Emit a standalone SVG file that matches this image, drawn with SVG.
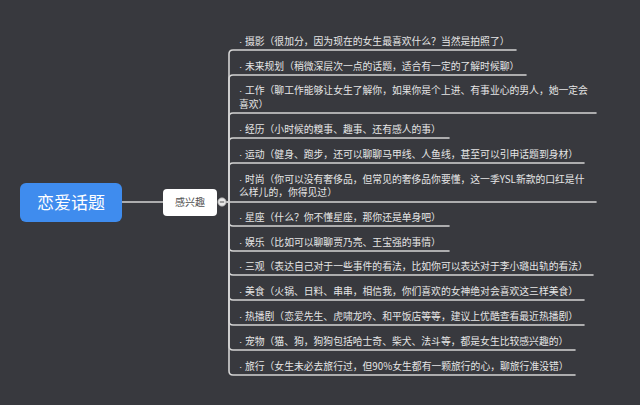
<svg xmlns="http://www.w3.org/2000/svg" width="640" height="405" viewBox="0 0 640 405">
<style>
.bg{fill:#38393e}
.ln{fill:none;stroke:#d4d4d4;stroke-width:1.6;stroke-linecap:round}
.t{font-family:"Noto Sans CJK SC","Microsoft YaHei",sans-serif;font-size:9.8px;fill:#e6e6e6}
.b{font-family:"Liberation Sans",sans-serif}
.root{font-family:"Noto Sans CJK SC",sans-serif;font-size:17px;fill:#ffffff}
.sub{font-family:"Noto Sans CJK SC",sans-serif;font-size:10px;fill:#505050}
</style>
<rect class="bg" x="0" y="0" width="640" height="405"/>
<g id="connectors">
<line class="ln" x1="122" y1="202" x2="163" y2="202"/>
<path class="ln" d="M226 202H229V54Q229 50 233 50H516"/>
<path class="ln" d="M229 202V79Q229 75 233 75H526"/>
<path class="ln" d="M229 202V117Q229 113 233 113H596"/>
<path class="ln" d="M229 202V142Q229 138 233 138H449"/>
<path class="ln" d="M229 202V167Q229 163 233 163H584"/>
<path class="ln" d="M226 202H596"/>
<path class="ln" d="M229 202V222Q229 226 233 226H449"/>
<path class="ln" d="M229 202V247Q229 251 233 251H449"/>
<path class="ln" d="M229 202V271Q229 275 233 275H593"/>
<path class="ln" d="M229 202V296Q229 300 233 300H584"/>
<path class="ln" d="M229 202V321Q229 325 233 325H584"/>
<path class="ln" d="M229 202V346Q229 350 233 350H575"/>
<path class="ln" d="M229 202V371Q229 375 233 375H575"/>
</g>
<g id="root">
<rect x="20" y="183" width="102" height="39" rx="6" fill="#3f8cee"/>
<text class="root" x="71" y="209" text-anchor="middle">恋爱话题</text>
</g>
<g id="interest">
<rect x="163" y="189" width="54" height="27" rx="4" fill="#ffffff"/>
<text class="sub" x="190" y="206" text-anchor="middle">感兴趣</text>
<circle cx="222" cy="202" r="4.2" fill="#e8e8e8" stroke="#9a9a9a" stroke-width="0.8"/>
<line x1="219.8" y1="202" x2="224.2" y2="202" stroke="#555" stroke-width="1"/>
</g>
<g id="n1"><text class="t" x="239" y="44.5"><tspan class="b">· </tspan>摄影（很加分，因为现在的女生最喜欢什么？当然是拍照了）</text></g>
<g id="n2"><text class="t" x="239" y="69.5"><tspan class="b">· </tspan>未来规划（稍微深层次一点的话题，适合有一定的了解时候聊）</text></g>
<g id="n3"><text class="t" x="239" y="93.5"><tspan class="b">· </tspan>工作（聊工作能够让女生了解你，如果你是个上进、有事业心的男人，她一定会</text><text class="t" x="239" y="107.5">喜欢）</text></g>
<g id="n4"><text class="t" x="239" y="132.5"><tspan class="b">· </tspan>经历（小时候的糗事、趣事、还有感人的事）</text></g>
<g id="n5"><text class="t" x="239" y="157.5"><tspan class="b">· </tspan>运动（健身、跑步，还可以聊聊马甲线、人鱼线，甚至可以引申话题到身材）</text></g>
<g id="n6"><text class="t" x="239" y="182.5"><tspan class="b">· </tspan>时尚（你可以没有奢侈品，但常见的奢侈品你要懂，这一季YSL新款的口红是什</text><text class="t" x="239" y="196">么样儿的，你得见过）</text></g>
<g id="n7"><text class="t" x="239" y="220.5"><tspan class="b">· </tspan>星座（什么？你不懂星座，那你还是单身吧）</text></g>
<g id="n8"><text class="t" x="239" y="245.5"><tspan class="b">· </tspan>娱乐（比如可以聊聊贾乃亮、王宝强的事情）</text></g>
<g id="n9"><text class="t" x="239" y="270"><tspan class="b">· </tspan>三观（表达自己对于一些事件的看法，比如你可以表达对于李小璐出轨的看法）</text></g>
<g id="n10"><text class="t" x="239" y="295"><tspan class="b">· </tspan>美食（火锅、日料、串串，相信我，你们喜欢的女神绝对会喜欢这三样美食）</text></g>
<g id="n11"><text class="t" x="239" y="320"><tspan class="b">· </tspan>热播剧（恋爱先生、虎啸龙吟、和平饭店等等，建议上优酷查看最近热播剧）</text></g>
<g id="n12"><text class="t" x="239" y="344.5"><tspan class="b">· </tspan>宠物（猫、狗，狗狗包括哈士奇、柴犬、法斗等，都是女生比较感兴趣的）</text></g>
<g id="n13"><text class="t" x="239" y="369.5"><tspan class="b">· </tspan>旅行（女生未必去旅行过，但90%女生都有一颗旅行的心，聊旅行准没错）</text></g>
</svg>
